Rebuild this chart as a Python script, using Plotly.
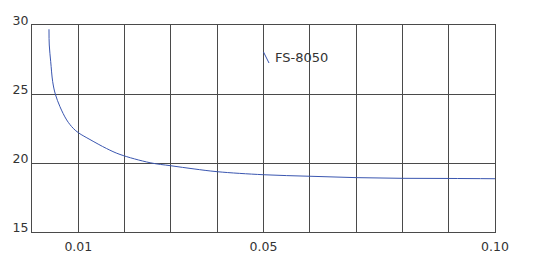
import plotly.graph_objects as go

# Data
x_vals = [0.00367, 0.00373, 0.00404, 0.00447, 0.00503, 0.00604, 0.00749, 0.00891,
          0.01008, 0.01252, 0.0161, 0.0190, 0.0255, 0.0300, 0.0350, 0.0400,
          0.0500, 0.0600, 0.0700, 0.0800, 0.0900, 0.1000]
y_vals = [29.69, 28.55, 27.34, 25.89, 25.00, 24.08, 23.12, 22.51,
          22.18, 21.70, 21.05, 20.62, 20.02, 19.80, 19.57, 19.37,
          19.15, 19.04, 18.94, 18.89, 18.88, 18.86]
series_name = "FS-8050"
x_tick_vals = [0.01, 0.05, 0.10]
x_tick_text = ["0.01", "0.05", "0.10"]
y_tick_vals = [15, 20, 25, 30]

FONT = "DejaVu Sans"
GRID = "#4a4a4a"

fig = go.Figure()
fig.add_trace(go.Scatter(x=x_vals, y=y_vals, mode="lines", name=series_name,
                         line=dict(color="#3a56b0", width=1, shape="spline", smoothing=1.0),
                         showlegend=False))

fig.update_xaxes(range=[0, 0.10], tickvals=x_tick_vals, ticktext=x_tick_text,
                 showgrid=False, zeroline=False,
                 minor=dict(dtick=0.01, tick0=0, showgrid=True, gridcolor=GRID, gridwidth=1, ticks=""),
                 showline=True, linecolor=GRID, linewidth=1, mirror=True,
                 tickfont=dict(family=FONT, size=12.5, color="#333333"), ticks="",
                 ticklabelstandoff=3)
fig.update_yaxes(range=[15, 30], tickvals=y_tick_vals, showgrid=True, gridcolor=GRID, gridwidth=1,
                 zeroline=False, showline=True, linecolor=GRID, linewidth=1, mirror=True,
                 tickfont=dict(family=FONT, size=12.5, color="#333333"), ticks="",
                 ticklabelshift=-4, ticklabelstandoff=0)

# legend-like glyph and label
fig.add_shape(type="line", xref="paper", yref="paper",
              x0=(263.5 - 32) / 463, y0=1 - (52 - 25) / 207,
              x1=(269 - 32) / 463, y1=1 - (63 - 25) / 207,
              line=dict(color="#3a56b0", width=1))
fig.add_annotation(text=series_name, xref="paper", yref="paper",
                   x=(273 - 32) / 463, y=1 - (57.5 - 25) / 207,
                   xanchor="left", yanchor="middle", showarrow=False,
                   font=dict(family=FONT, size=13, color="#333333"))

fig.update_layout(width=534, height=273, margin=dict(l=32, r=39, t=25, b=41),
                  paper_bgcolor="white", plot_bgcolor="white", showlegend=False)
fig.write_html("out.html")
